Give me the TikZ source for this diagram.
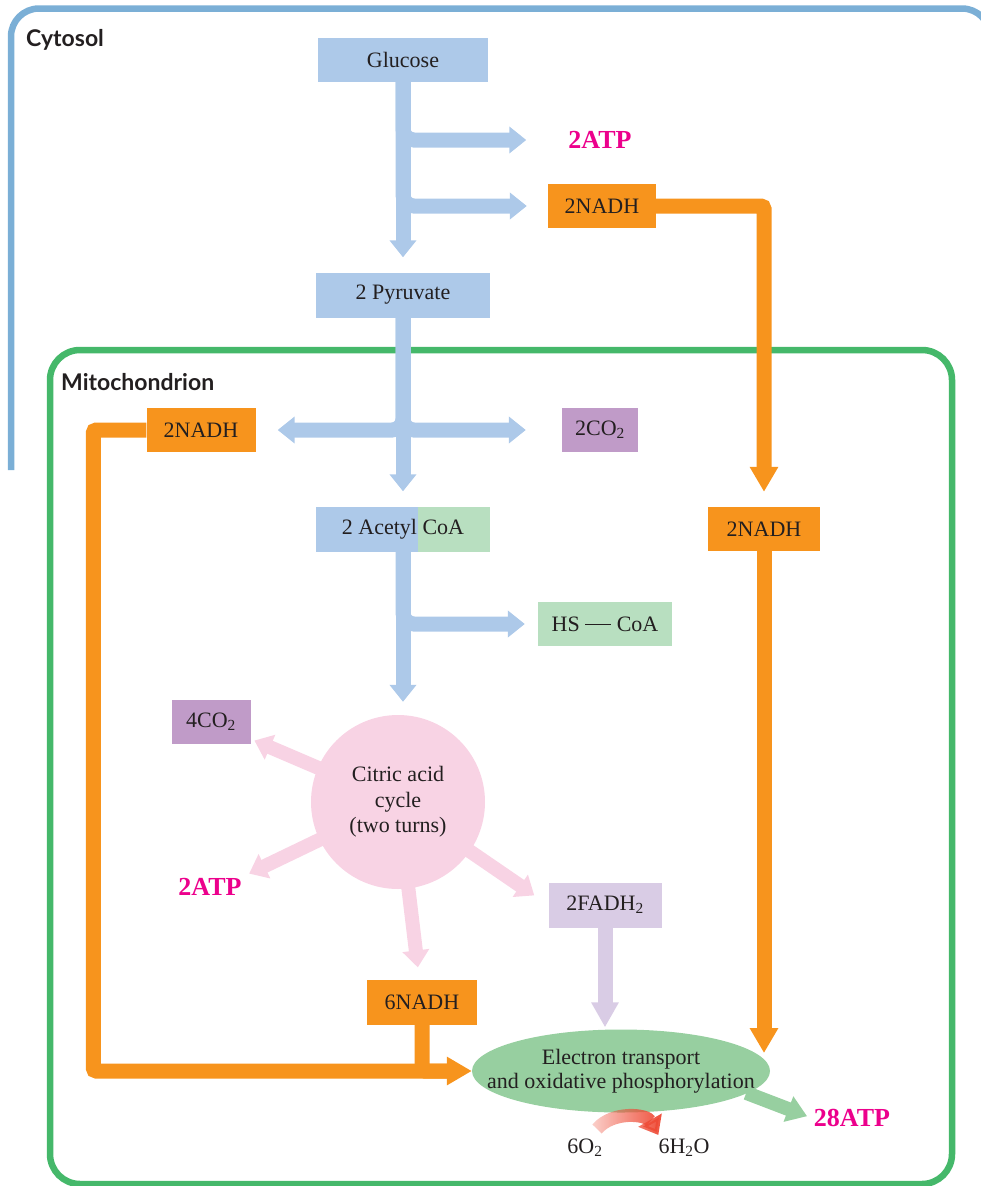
\documentclass[tikz,border=0pt]{standalone}
\usepackage{fontspec}
\setmainfont{Liberation Serif}
\newfontfamily\regionfont{Lato}
\usepackage{xcolor}
\usetikzlibrary{arrows.meta, positioning, shapes.geometric, fadings}
\definecolor{glublue}{HTML}{ADC9E9}
\definecolor{nadhorange}{HTML}{F7941D}
\definecolor{atppink}{HTML}{EC008C}
\definecolor{co2purple}{HTML}{C09BC8}
\definecolor{coagreen}{HTML}{B8DFC0}
\definecolor{cyclepink}{HTML}{F8D3E4}
\definecolor{fadhlilac}{HTML}{D9CCE5}
\definecolor{etcgreen}{HTML}{97CFA0}
\definecolor{cytoblue}{HTML}{7BAFD6}
\definecolor{mitogreen}{HTML}{45B86A}
\definecolor{o2red}{HTML}{EE4A35}
\definecolor{inkdark}{HTML}{231F20}
\tikzfading[name=fadetored, left color=transparent!75, right color=transparent!0]

\begin{document}
\begin{tikzpicture}[
    x=1pt, y=-1pt,
    box/.style={minimum height=44pt, inner sep=0pt, font=\fontsize{22}{25}\selectfont, text=inkdark},
    gain/.style={inner sep=2pt, font=\fontsize{26}{28}\selectfont\bfseries, text=atppink},
    chem/.style={inner sep=0pt, font=\fontsize{22}{25}\selectfont, text=inkdark},
    region/.style={inner sep=0pt, font=\regionfont\fontsize{23}{26}\selectfont\bfseries, text=inkdark},
    bluearrow/.style={line width=15pt, draw=glublue, -{Triangle[length=17pt,width=26pt]}},
    pinkarrow/.style={line width=14pt, draw=cyclepink, -{Triangle[length=17pt,width=26pt]}},
    orangearrow/.style={line width=15pt, draw=nadhorange, -{Triangle[length=25pt,width=27pt]}},
    orangeline/.style={line width=15pt, draw=nadhorange},
    lilacarrow/.style={line width=15pt, draw=fadhlilac, -{Triangle[length=25pt,width=26pt]}},
    greenarrow/.style={line width=14pt, draw=etcgreen, -{Triangle[length=20pt,width=26pt]}},
]
    \useasboundingbox (0,0) rectangle (981,1186);

    % Compartments
    \draw[line width=6.5pt, cytoblue, rounded corners=28pt] (11,470) -- (11,8.5) -- (990,8.5) -- (990,60);
    \draw[line width=6.5pt, mitogreen, rounded corners=30pt] (50,350) rectangle (952,1184);
    \node[region, anchor=west] (cytosol) at (26,40) {Cytosol};
    \node[region, anchor=west] (mito) at (61,382) {Mitochondrion};

    % Glycolysis
    \node[box, fill=glublue, minimum width=170pt] (glucose) at (403,60) {Glucose};
    \node[gain] (atpA) at (600,140) {2ATP};
    \node[box, fill=nadhorange, minimum width=108pt] (nadhA) at (602,206) {2NADH};
    \node[box, fill=glublue, minimum width=174pt, minimum height=45pt] (pyruvate) at (403,295) {2 Pyruvate};

    % Pyruvate oxidation
    \node[box, fill=nadhorange, minimum width=109pt] (nadhB) at (201,430) {2NADH};
    \node[box, fill=co2purple, minimum width=76pt] (co2A) at (600,430) {2CO\textsubscript{2}};
    \node[box, fill=nadhorange, minimum width=112pt] (nadhC) at (764,529) {2NADH};
    \node[box, fill=glublue, minimum width=174pt, minimum height=45pt,
          path picture={\fill[coagreen] ([xshift=15pt]path picture bounding box.south) rectangle (path picture bounding box.north east);}]
          (acetyl) at (403,529) {2 Acetyl CoA};
    \node[box, fill=coagreen, minimum width=134pt] (hscoa) at (605,624) {HS \rule[0.28em]{26pt}{0.9pt} CoA};

    % Citric acid cycle
    \node[box, fill=co2purple, minimum width=79pt] (co2B) at (211,722) {4CO\textsubscript{2}};
    \node[circle, fill=cyclepink, minimum size=174pt, inner sep=0pt, align=center,
          font=\fontsize{22}{25.5}\selectfont, text=inkdark] (cycle) at (398,802) {Citric acid\\cycle\\(two turns)};
    \node[gain] (atpB) at (210,887) {2ATP};
    \node[box, fill=fadhlilac, minimum width=113pt, minimum height=45pt] (fadh) at (605,905) {2FADH\textsubscript{2}};
    \node[box, fill=nadhorange, minimum width=110pt, minimum height=45pt] (nadhD) at (422,1002) {6NADH};

    % Electron transport
    \node[ellipse, fill=etcgreen, minimum width=298pt, minimum height=83pt, inner sep=0pt, align=center,
          font=\fontsize{22}{24}\selectfont, text=inkdark] (etc) at (621,1071)
          {\makebox[0pt]{Electron transport}\\\makebox[0pt]{and oxidative phosphorylation}};
    \node[gain] (atpC) at (852,1118) {28ATP};
    \node[chem] (o2) at (585,1148) {6O\textsubscript{2}};
    \node[chem] (h2o) at (684,1148) {6H\textsubscript{2}O};

    % Blue carbon flow
    \draw[bluearrow, shorten >=15pt] (glucose.south) -- (pyruvate.north);
    \draw[bluearrow, rounded corners=11pt, shorten >=40pt] (glucose.south) |- (atpA.west);
    \draw[bluearrow, rounded corners=11pt, shorten >=21pt] (glucose.south) |- (nadhA.west);
    \draw[bluearrow, shorten >=15pt] (pyruvate.south) -- (acetyl.north);
    \draw[bluearrow, rounded corners=11pt, shorten >=22pt] (pyruvate.south) |- (nadhB.east);
    \draw[bluearrow, rounded corners=11pt, shorten >=36pt] (pyruvate.south) |- (co2A.west);
    \draw[bluearrow, shorten >=13pt] (acetyl.south) -- (acetyl.south |- cycle.north);
    \draw[bluearrow, rounded corners=11pt, shorten >=13pt] (acetyl.south) |- (hscoa.west);

    % Cycle products
    \draw[pinkarrow, shorten <=-8pt, shorten >=4pt] (cycle) -- (co2B);
    \draw[pinkarrow, shorten <=-8pt, shorten >=6pt] (cycle) -- (atpB.north east);
    \draw[pinkarrow, shorten <=-8pt, shorten >=12pt] (cycle) -- (nadhD);
    \draw[pinkarrow, shorten <=-8pt, shorten >=17pt] (cycle) -- (fadh.west);

    % Electron carriers
    \draw[orangearrow, rounded corners=3pt, shorten >=15pt] (nadhA.east) -| (nadhC.north);
    \draw[orangearrow, shorten >=18pt] (nadhC.south) -- (nadhC.south |- etc.center);
    \draw[orangearrow, rounded corners=3pt] (nadhB.west) -- ++(-53,0) |- (etc.west);
    \draw[orangeline, rounded corners=3pt, shorten >=20pt] (nadhD.south) |- (etc.west);
    \draw[lilacarrow, shorten >=2pt] (fadh.south) -- (fadh.south |- etc.north);
    \draw[greenarrow, shorten <=-1pt, shorten >=5pt] (etc.-10) -- (atpC.west);
    \draw[line width=13pt, o2red, path fading=fadetored, -{Triangle[length=17pt,width=26pt]}]
        ([xshift=12pt, yshift=10pt]o2.north) to[bend left=55] ([yshift=4pt]h2o.north west);
\end{tikzpicture}
\end{document}
